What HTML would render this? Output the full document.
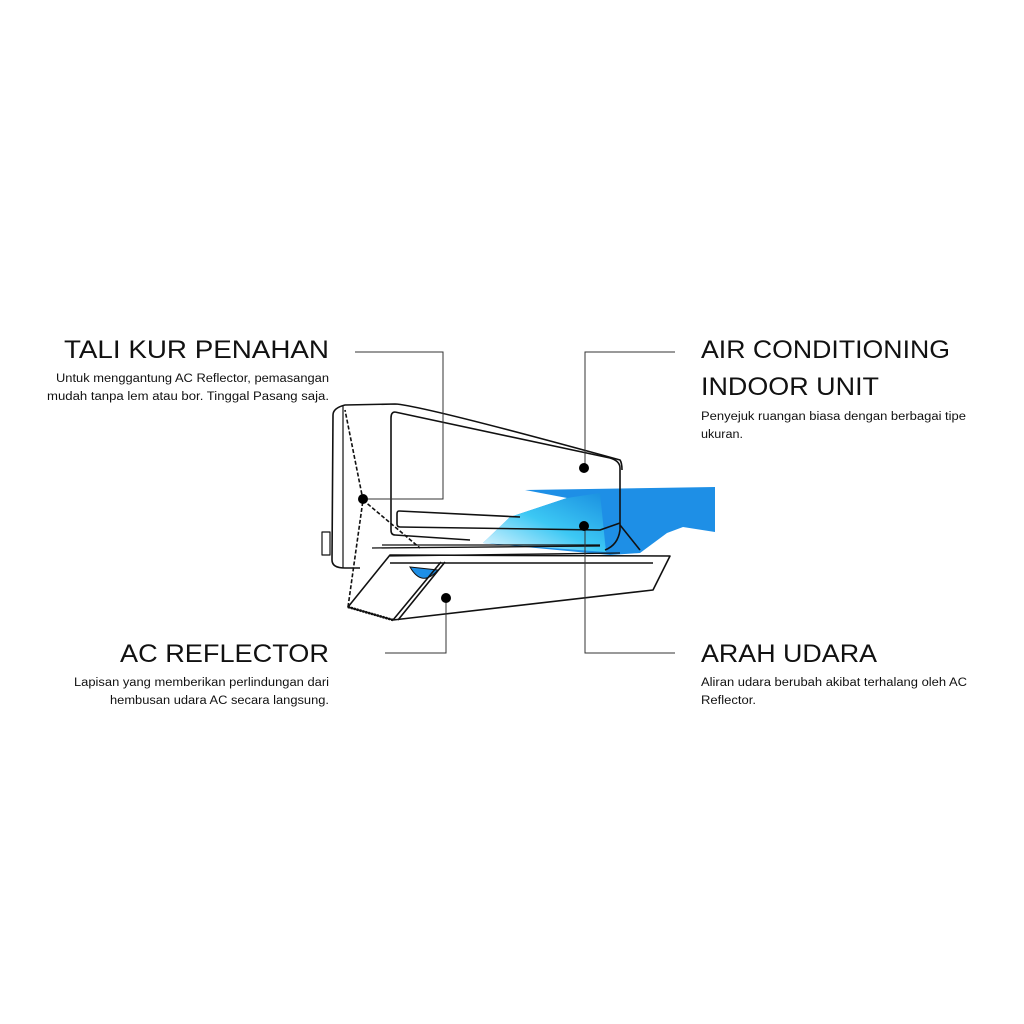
<!DOCTYPE html>
<html><head><meta charset="utf-8"><style>
html,body{margin:0;padding:0;background:#fff}
svg{display:block}
text{font-family:"Liberation Sans",Arial,sans-serif;fill:#111}
</style></head><body>
<svg width="1024" height="1024" viewBox="0 0 1024 1024" xmlns="http://www.w3.org/2000/svg">
<defs>
<linearGradient id="g" x1="0" y1="1" x2="1" y2="0">
<stop offset="0" stop-color="#e8f8ff"/><stop offset="0.5" stop-color="#3cc8f4"/><stop offset="1" stop-color="#1a8fe0"/>
</linearGradient>
</defs>
<text x="329" y="358" font-size="25" text-anchor="end" textLength="265" lengthAdjust="spacingAndGlyphs">TALI KUR PENAHAN</text>
<text x="329" y="382" font-size="11.5" text-anchor="end" textLength="273" lengthAdjust="spacingAndGlyphs">Untuk menggantung AC Reflector, pemasangan</text>
<text x="329" y="400" font-size="11.5" text-anchor="end" textLength="282" lengthAdjust="spacingAndGlyphs">mudah tanpa lem atau bor. Tinggal Pasang saja.</text>

<text x="701" y="358" font-size="25" textLength="249" lengthAdjust="spacingAndGlyphs">AIR CONDITIONING</text>
<text x="701" y="395" font-size="25" textLength="178" lengthAdjust="spacingAndGlyphs">INDOOR UNIT</text>
<text x="701" y="420" font-size="11.5" textLength="265" lengthAdjust="spacingAndGlyphs">Penyejuk ruangan biasa dengan berbagai tipe</text>
<text x="701" y="438" font-size="11.5" textLength="42" lengthAdjust="spacingAndGlyphs">ukuran.</text>

<text x="329" y="662" font-size="25" text-anchor="end" textLength="209" lengthAdjust="spacingAndGlyphs">AC REFLECTOR</text>
<text x="329" y="686" font-size="11.5" text-anchor="end" textLength="255" lengthAdjust="spacingAndGlyphs">Lapisan yang memberikan perlindungan dari</text>
<text x="329" y="704" font-size="11.5" text-anchor="end" textLength="219" lengthAdjust="spacingAndGlyphs">hembusan udara AC secara langsung.</text>

<text x="701" y="662" font-size="25" textLength="176" lengthAdjust="spacingAndGlyphs">ARAH UDARA</text>
<text x="701" y="686" font-size="11.5" textLength="266" lengthAdjust="spacingAndGlyphs">Aliran udara berubah akibat terhalang oleh AC</text>
<text x="701" y="704" font-size="11.5" textLength="55" lengthAdjust="spacingAndGlyphs">Reflector.</text>

<path d="M525,490 L715,487 L715,532 L683,527 L667,533 L640,553 L610,555 L483,543 L510,517 L567,498 Z" fill="#1e8fe6"/>
<path d="M483,543 L510,517 L567,498 L600,493 L606,552 Z" fill="url(#g)"/>
<path d="M410,567 Q422,588 438,570 Z" fill="#1e8fe6" stroke="#111" stroke-width="1"/>

<g fill="none" stroke="#111" stroke-width="1.6" stroke-linejoin="round">
<path d="M333,415 Q333,408 345,405 L395,404 Q420,405 620,460 Q622,463 622,470"/>
<path d="M333,415 L332,560 Q332,568 345,568 L360,568"/>
<path d="M343,406 L343,568" stroke-width="1.2"/>
<path d="M322,532 L330,532 L330,555 L322,555 Z" stroke-width="1.2"/>
<path d="M395,412 Q391,412 391,418 L391,530 Q391,535 395,535 L470,540"/>
<path d="M395,412 L610,458 Q620,461 620,468 L620,530 Q618,545 605,550"/>
<path d="M399,511 Q397,511 397,514 L397,524 Q397,527 400,527 L600,530 L620,523"/>
<path d="M399,511 L520,517"/>
<path d="M382,545 L600,545" stroke-width="1.3"/>
<path d="M372,548 L600,546" stroke-width="1.3"/>
<path d="M390,556 L620,553" stroke-width="1.3"/>
<path d="M620,525 L640,550"/>
<path d="M390,555 L670,556 L653,590 L393,620 L348,607 Z"/>
<path d="M390,563 L653,563"/>
<path d="M348,607 L393,620" stroke-width="2.5" stroke-dasharray="2 1"/>
<path d="M393,620 L441,562 M398,620 L445,562"/>
<path d="M348,607 L363,500 L345,410 M363,500 L420,548" stroke-dasharray="4 2"/>
</g>

<g fill="none" stroke="#333" stroke-width="1">
<path d="M355,352 L443,352 L443,499 L363,499"/>
<path d="M675,352 L585,352 L585,468"/>
<path d="M585,526 L585,653 L675,653"/>
<path d="M446,598 L446,653 L385,653"/>
</g>
<g fill="#000">
<circle cx="363" cy="499" r="5"/>
<circle cx="584" cy="468" r="5"/>
<circle cx="584" cy="526" r="5"/>
<circle cx="446" cy="598" r="5"/>
</g>
</svg>
</body></html>
